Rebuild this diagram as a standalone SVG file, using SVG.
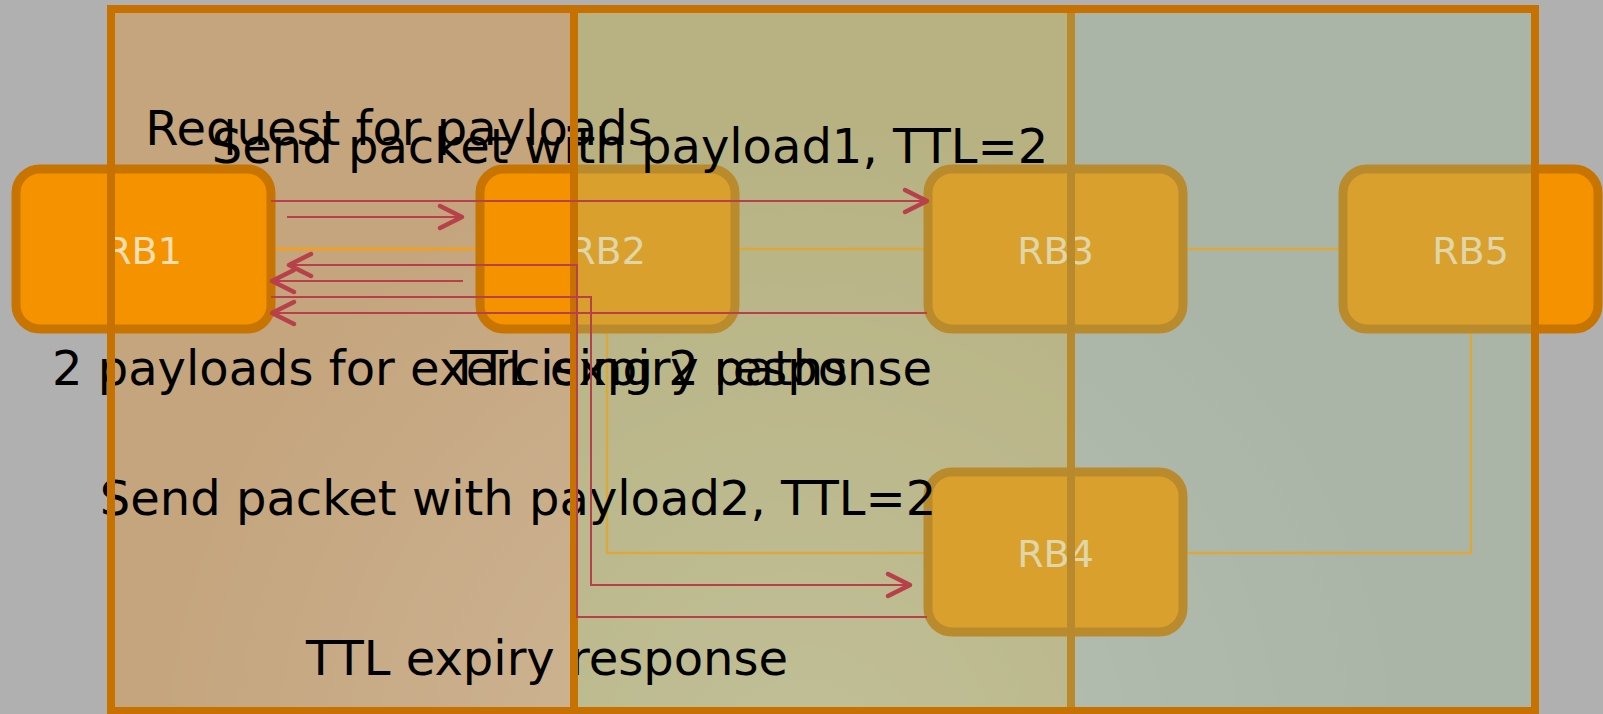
<svg xmlns="http://www.w3.org/2000/svg" width="1603" height="714" viewBox="0 0 1603 714">
<defs>
<style>
.lane-stroke{fill:none;stroke:#C67100;stroke-width:8}
.node rect{fill:#F59200;stroke:#C87400;stroke-width:9}
.node text{font-family:"DejaVu Sans",Verdana,sans-serif;font-size:38px;fill:#FCE0B4;text-anchor:middle}
.link{fill:none;stroke:#F7A015;stroke-width:2.4}
.msg{fill:none;stroke:#B8404A;stroke-width:2;marker-end:url(#arr)}
.lbl{font-family:"DejaVu Sans",Verdana,sans-serif;font-size:48px;fill:#000;text-anchor:middle}
</style>
<marker id="arr" markerUnits="userSpaceOnUse" markerWidth="32" markerHeight="30" refX="26" refY="13" orient="auto" overflow="visible">
<path d="M4,2 L26,13 L4,24" fill="none" stroke="#B8404A" stroke-width="4.5" stroke-linecap="round" stroke-linejoin="round"/>
</marker>
<radialGradient id="glow" gradientUnits="userSpaceOnUse" cx="800" cy="770" r="650">
<stop offset="0" stop-color="#FFFFFF" stop-opacity="0.22"/>
<stop offset="1" stop-color="#FFFFFF" stop-opacity="0"/>
</radialGradient>
</defs>
<rect x="0" y="0" width="1603" height="714" fill="#B0B0B0"/>
<g id="lanes-fill">
<rect x="111" y="9" width="463" height="702" fill="#C4A57E"/>
<rect x="574" y="9" width="497" height="702" fill="#C4AD7C"/>
<rect x="1071" y="9" width="464" height="702" fill="#B0B0B0"/>
<rect x="111" y="9" width="1424" height="702" fill="url(#glow)"/>
</g>
<g id="links">
<path class="link" d="M271,249 H479"/>
<path class="link" d="M736,249 H927"/>
<path class="link" d="M1183,249 H1342"/>
<path class="link" d="M607,329 V553 H927"/>
<path class="link" d="M1183,553 H1471 V329"/>
</g>
<g id="RB1" class="node"><rect x="16" y="169" width="255" height="160" rx="24"/><text x="143.5" y="264">RB1</text></g>
<g id="RB2" class="node"><rect x="480" y="169" width="255" height="160" rx="24"/><text x="607.5" y="264">RB2</text></g>
<g id="RB3" class="node"><rect x="928" y="169" width="255" height="160" rx="24"/><text x="1055.5" y="264">RB3</text></g>
<g id="RB5" class="node"><rect x="1343" y="169" width="255" height="160" rx="24"/><text x="1470.5" y="264">RB5</text></g>
<g id="RB4" class="node"><rect x="928" y="472" width="255" height="160" rx="24"/><text x="1055.5" y="567">RB4</text></g>
<line x1="1071" y1="9" x2="1071" y2="711" stroke="#C67100" stroke-width="8"/>
<rect x="574" y="9" width="961" height="702" fill="rgb(156,193,149)" fill-opacity="0.3"/>
<g id="labels">
<text class="lbl" x="399" y="145">Request for payloads</text>
<text class="lbl" x="630" y="163">Send packet with payload1, TTL=2</text>
<text class="lbl" x="450" y="385">2 payloads for exercising 2 paths</text>
<text class="lbl" x="691" y="385">TTL expiry response</text>
<text class="lbl" x="518" y="515">Send packet with payload2, TTL=2</text>
<text class="lbl" x="547" y="675">TTL expiry response</text>
</g>
<g id="pool-frame">
<rect class="lane-stroke" x="111" y="9" width="1424" height="702"/>
<line x1="574" y1="9" x2="574" y2="711" stroke="#C67100" stroke-width="8"/>
</g>
<g id="connectors">
<path class="msg" d="M287,217 H462"/>
<path class="msg" d="M271,201 H927"/>
<path class="msg" d="M463,281 H272"/>
<path class="msg" d="M927,313 H272"/>
<path class="msg" d="M271,297 H591 V585 H910"/>
<path class="msg" d="M927,617 H577 V265 H289"/>
</g>
</svg>
